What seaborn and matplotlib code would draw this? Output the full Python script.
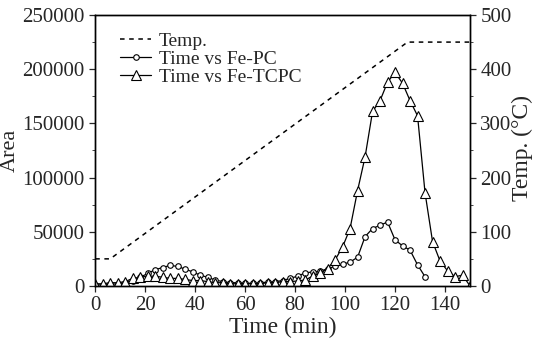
import numpy as np
import pandas as pd
import matplotlib
matplotlib.use("Agg")
import matplotlib.pyplot as plt
import seaborn as sns
from matplotlib.ticker import MultipleLocator

# Fe-TCPC area, sampled every 3 min from 0 to 150
tcpc_time = list(range(0, 151, 3))
tcpc_area = [2000, 2000, 3000, 3000, 4000, 7000, 8000, 9000, 9000, 8000,
             7000, 7000, 6000, 5000, 5000, 4000, 3000, 3000, 2000, 2000,
             2000, 2000, 2000, 3000, 3000, 4000, 4000, 4600, 5500, 9000,
             12000, 16000, 24000, 36000, 53000, 88000, 119000, 161000, 171000, 188000,
             197000, 187000, 171000, 157000, 86000, 41000, 23000, 14000, 8500, 10000,
             0]

# Fe-PC area, sampled every 3 min from 0 to 132
pc_time = list(range(0, 133, 3))
pc_area = [1000, 1000, 1500, 2000, 3000, 5000, 8000, 11500, 15000, 17000,
           19000, 18000, 15500, 13000, 10000, 8000, 5500, 4000, 3000, 3000,
           2500, 2500, 3000, 3500, 4000, 5000, 7000, 9000, 12000, 13000,
           13500, 16000, 18000, 20000, 22000, 26500, 45500, 53000, 56000, 59000,
           42500, 37000, 33000, 19500, 8500]

# temperature programme
temp_time = [0, 6, 125, 150]
temp_val = [50, 50, 450, 450]

sns.set_style("ticks")
plt.rcParams["font.family"] = ["Liberation Serif", "DejaVu Serif"]

fig, ax = plt.subplots(figsize=(5.44, 3.57), dpi=100)
fig.subplots_adjust(left=0.175, right=0.864, bottom=0.199, top=0.958)
ax2 = ax.twinx()

pc = pd.DataFrame({"t": pc_time, "a": pc_area})
tc = pd.DataFrame({"t": tcpc_time, "a": tcpc_area})
tp = pd.DataFrame({"t": temp_time, "T": temp_val})

sns.lineplot(data=tp, x="t", y="T", ax=ax2, color="black", lw=1.1,
             linestyle=(0, (3, 3)), label="Temp.", legend=False)
sns.lineplot(data=pc, x="t", y="a", ax=ax, color="black", lw=0.9, marker="o",
             markersize=4, markerfacecolor="white", markeredgecolor="black",
             markeredgewidth=0.8, label="Time vs Fe-PC", legend=False)
sns.lineplot(data=tc, x="t", y="a", ax=ax, color="black", lw=0.9, marker="^",
             markersize=7, markerfacecolor="white", markeredgecolor="black",
             markeredgewidth=0.8, label="Time vs Fe-TCPC", legend=False)

ax.set_xlim(0, 150)
ax.set_ylim(0, 250000)
ax2.set_ylim(0, 500)
ax.xaxis.set_major_locator(MultipleLocator(20))
ax.yaxis.set_major_locator(MultipleLocator(50000))
ax.yaxis.set_minor_locator(MultipleLocator(25000))
ax2.yaxis.set_major_locator(MultipleLocator(100))
ax2.yaxis.set_minor_locator(MultipleLocator(50))

ax.set_xlabel("Time (min)", fontsize=17)
ax.set_ylabel("Area", fontsize=16)
ax2.set_ylabel("Temp. (°C)", fontsize=17)
ax.yaxis.set_label_coords(-0.2, 0.5)
ax2.yaxis.set_label_coords(1.112, 0.51)
ax.xaxis.set_label_coords(0.5, -0.115)
ax.tick_params(labelsize=15, width=0.9, length=4)
ax.tick_params(which="minor", length=2.5)
ax2.tick_params(labelsize=15, width=0.9, length=4)
ax2.tick_params(which="minor", length=2.5)

for a in (ax, ax2):
    for s in a.spines.values():
        s.set_linewidth(1.0)
        s.set_color("black")

h2, l2 = ax2.get_legend_handles_labels()
h1, l1 = ax.get_legend_handles_labels()
ax2.legend(h2 + h1, l2 + l1, loc="upper left", frameon=False, fontsize=14,
           handlelength=1.6, handletextpad=0.4, labelspacing=0.0,
           borderaxespad=0.3, bbox_to_anchor=(0.03, 0.985))

fig.savefig("out.png", dpi=100)
